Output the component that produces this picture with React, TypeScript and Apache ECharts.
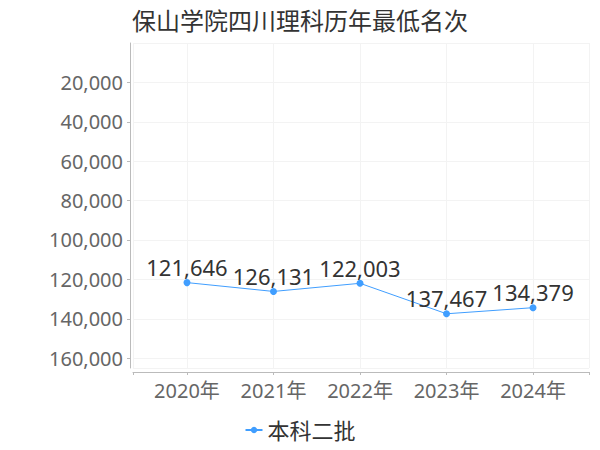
import { useEffect, useRef } from "react";
import * as echarts from "echarts";

const years: string[] = ["2020年", "2021年", "2022年", "2023年", "2024年"];
const ranks: number[] = [121646, 126131, 122003, 137467, 134379];
const seriesName = "本科二批";
const titleText = "保山学院四川理科历年最低名次";

const FONT = "'Noto Sans', 'Noto Sans CJK SC', sans-serif";
const fmt = (v: number) => v.toLocaleString("en-US");

const App: React.FC = () => {
  const chartRef = useRef<HTMLDivElement>(null);

  useEffect(() => {
    document.body.style.margin = "0";
    const myChart = echarts.init(chartRef.current!, undefined, { renderer: "svg" });

    const option: echarts.EChartsOption = {
      animation: false,
      textStyle: { fontFamily: FONT },
      title: {
        text: titleText,
        left: "center",
        top: 3,
        textStyle: { fontSize: 24, fontWeight: "normal", color: "#333", fontFamily: FONT },
      },
      legend: {
        bottom: 4,
        left: "center",
        itemWidth: 17,
        itemHeight: 8,
        itemGap: 4,
        textStyle: { fontSize: 22, color: "#333", fontFamily: FONT },
        data: [seriesName],
      },
      grid: { left: 133, right: 11, top: 43, bottom: 82 },
      xAxis: {
        type: "value",
        min: -0.624,
        max: 4.647,
        offset: 4,
        axisLine: { onZero: false, lineStyle: { color: "#bbb" } },
        axisTick: { show: true, length: 3, lineStyle: { color: "#bbb" } },
        splitLine: { show: true, lineStyle: { color: "#f3f3f3" } },
        axisLabel: {
          fontSize: 20,
          color: "#666",
          margin: 8,
          fontFamily: FONT,
          formatter: (v: number) => (Number.isInteger(v) && years[v] ? years[v] : ""),
        },
      },
      yAxis: {
        type: "value",
        inverse: true,
        min: 0,
        max: 165000,
        interval: 20000,
        offset: 3,
        axisLine: { show: true, onZero: false, lineStyle: { color: "#bbb" } },
        axisTick: { show: true, length: 3, lineStyle: { color: "#bbb" } },
        splitLine: { show: true, lineStyle: { color: "#f3f3f3" } },
        axisLabel: {
          fontSize: 20,
          color: "#666",
          margin: 7,
          fontFamily: FONT,
          showMinLabel: false,
          showMaxLabel: false,
          formatter: (v: number) => fmt(v),
        },
      },
      series: [
        {
          name: seriesName,
          type: "line",
          data: ranks.map((v, i) => [i, v]),
          symbol: "circle",
          symbolSize: 7,
          lineStyle: { width: 1, color: "#409eff" },
          itemStyle: { color: "#409eff" },
          label: {
            show: true,
            position: "top",
            distance: 1,
            fontSize: 22,
            color: "#333",
            fontFamily: FONT,
            formatter: (p: any) => fmt(p.value[1]),
          },
        },
      ],
    };
    myChart.setOption(option);

    return () => {
      myChart.dispose();
    };
  }, []);

  return <div ref={chartRef} style={{ width: "600px", height: "450px" }} />;
};

export default App;
